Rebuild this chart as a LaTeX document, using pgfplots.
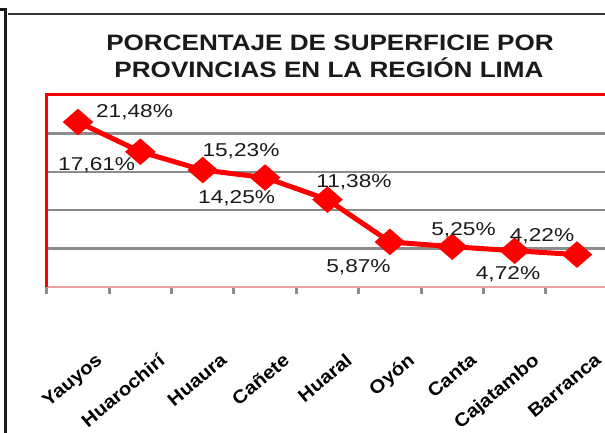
\documentclass[border=0pt]{standalone}
\usepackage{pgfplots}
\pgfplotsset{compat=1.18}
\usepackage{fontspec}
\setmainfont{Liberation Sans}
\newfontfamily\titlefont{Liberation Sans}[FakeStretch=1.17]
\newfontfamily\labelfont{Liberation Sans}[FakeStretch=1.22]
\newfontfamily\tickfont{Liberation Sans}[FakeStretch=1.1]
\definecolor{gridgray}{HTML}{8C8C8C}
\definecolor{pinkline}{HTML}{E8A0A0}
\definecolor{txt}{HTML}{1A1A1A}
\begin{document}
\begin{tikzpicture}
% frame
\draw[line width=3bp, color=txt] (0bp,423bp) -- (5.5bp,423bp) -- (5.5bp,-5bp);
\draw[line width=1.7bp, color=black!80] (8bp,418.8bp) -- (610bp,418.8bp);
% title
\node[anchor=base, inner sep=0pt, text=txt, font=\titlefont\bfseries\fontsize{22.3bp}{26bp}\selectfont] at (330bp,382bp) {PORCENTAJE DE SUPERFICIE POR};
\node[anchor=base, inner sep=0pt, text=txt, font=\titlefont\bfseries\fontsize{22.3bp}{26bp}\selectfont] at (329bp,355.3bp) {PROVINCIAS EN LA REGIÓN LIMA};
\begin{axis}[
  at={(46.8bp,146bp)}, anchor=south west,
  scale only axis, width=561.4bp, height=192bp,
  xmin=-0.5, xmax=8.5, ymin=0, ymax=25,
  axis line style={draw=none},
  clip=false,
  xtick={0,1,2,3,4,5,6,7,8},
  xticklabels={Yauyos,Huarochirí,Huaura,Cañete,Huaral,Oyón,Canta,Cajatambo,Barranca},
  minor xtick={-0.5,0.5,1.5,2.5,3.5,4.5,5.5,6.5,7.5,8.5},
  xtick pos=left,
  tick align=outside,
  major tick length=0pt,
  minor tick length=7bp,
  minor tick style={gridgray, line width=3bp},
  ytick={5,10,15,20},
  yticklabels={},
  ymajorgrids,
  major grid style={gridgray, line width=2.5bp},
  xticklabel style={font=\tickfont\bfseries\fontsize{18.5bp}{20bp}\selectfont, text=black, inner sep=0pt, xshift=17bp, yshift=-65bp, rotate=40, anchor=north east},
]
\draw[pinkline, line width=1.5bp] (rel axis cs:0,0) -- (rel axis cs:1,0);
\draw[red, line width=3bp] (rel axis cs:0,0) -- (rel axis cs:0,1) -- (rel axis cs:1,1);
\addplot[red, line width=5bp, mark=diamond*, mark size=10bp, mark options={fill=red, draw=none, xscale=1.53}]
 coordinates {(0,21.48) (1,17.61) (2,15.23) (3,14.25) (4,11.38) (5,5.87) (6,5.25) (7,4.72) (8,4.22)};
\addplot[draw=none, mark=none, nodes near coords, point meta=explicit symbolic,
  nodes near coords style={anchor=base, inner sep=0pt, text=txt, font=\labelfont\fontsize{18.6bp}{20bp}\selectfont}]
 coordinates {
 (0.906,22.04) [21,48\%]
 (0.300,15.23) [17,61\%]
 (2.613,16.93) [15,23\%]
 (2.544,10.81) [14,25\%]
 (4.425,13.02) [11,38\%]
 (4.497,1.86) [5,87\%]
 (6.181,6.77) [5,25\%]
 (6.894,1.04) [4,72\%]
 (7.439,5.86) [4,22\%]
 };
\end{axis}
\pgfresetboundingbox
\path[use as bounding box] (0bp,0bp) rectangle (605bp,433bp);
\end{tikzpicture}
\end{document}
